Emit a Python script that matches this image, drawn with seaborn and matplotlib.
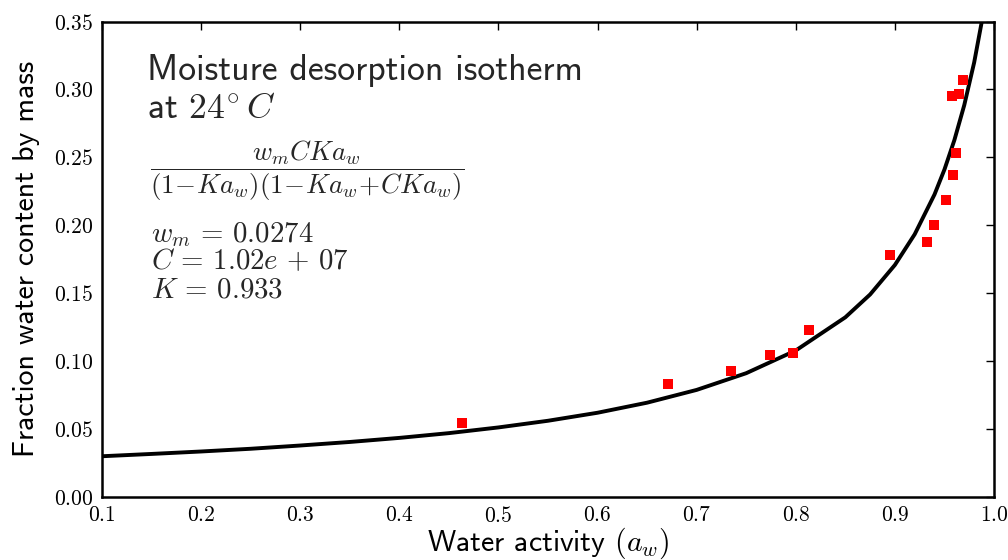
import matplotlib
matplotlib.use("Agg")
import matplotlib.pyplot as plt
import seaborn as sns
import pandas as pd

# ---- data ----
aw_obs = [0.463, 0.671, 0.735, 0.774, 0.797, 0.813, 0.895, 0.932, 0.939,
          0.952, 0.959, 0.962, 0.958, 0.965, 0.969]
w_obs = [0.055, 0.083, 0.093, 0.105, 0.106, 0.123, 0.178, 0.188, 0.200,
         0.219, 0.237, 0.253, 0.295, 0.297, 0.307]

# fitted GAB curve
aw_fit = [0.10, 0.15, 0.20, 0.25, 0.30, 0.35, 0.40, 0.45, 0.50, 0.55, 0.60,
          0.65, 0.70, 0.75, 0.80, 0.85, 0.875, 0.90, 0.92, 0.94, 0.95, 0.96,
          0.97, 0.98, 0.99]
w_fit = [0.0302, 0.0319, 0.0337, 0.0357, 0.0381, 0.0407, 0.0437, 0.0472,
         0.0514, 0.0563, 0.0622, 0.0696, 0.0790, 0.0913, 0.1080, 0.1324,
         0.1492, 0.1709, 0.1935, 0.2228, 0.2411, 0.2627, 0.2885, 0.3199,
         0.3590]

xticks = [0.1, 0.2, 0.3, 0.4, 0.5, 0.6, 0.7, 0.8, 0.9, 1.0]
xtick_labels = ["0.1", "0.2", "0.3", "0.4", "0.5", "0.6", "0.7", "0.8", "0.9", "1.0"]
yticks = [0.00, 0.05, 0.10, 0.15, 0.20, 0.25, 0.30, 0.35]
ytick_labels = ["0.00", "0.05", "0.10", "0.15", "0.20", "0.25", "0.30", "0.35"]

title_lines = ["Moisture desorption isotherm", r"at $24^{\circ}\, C$"]
formula = r"$\dfrac{w_m C K a_w}{(1\!-\!K a_w)(1\!-\!K a_w\!+\!C K a_w)}$"
param_lines = [r"$w_m\,=\,0.0274$", r"$C\,=\,1.02e\,+\,07$", r"$K\,=\,0.933$"]
xlabel = r"Water activity $(a_w)$"
ylabel = "Fraction water content by mass"

# ---- style ----
sns.set_style("white")
plt.rcParams["mathtext.fontset"] = "cm"
plt.rcParams["font.family"] = ["cmss10", "DejaVu Sans"]
plt.rcParams["axes.unicode_minus"] = False

fig = plt.figure(figsize=(10.08, 5.6), dpi=100)
ax = fig.add_axes([102 / 1008, 1 - 497.3 / 560, 892 / 1008, (497.3 - 21.5) / 560])

fit_df = pd.DataFrame({"aw": aw_fit, "w": w_fit})
obs_df = pd.DataFrame({"aw": aw_obs, "w": w_obs})

sns.lineplot(data=fit_df, x="aw", y="w", sort=False, estimator=None,
             color="black", linewidth=2.8, ax=ax, zorder=2)
sns.scatterplot(data=obs_df, x="aw", y="w", marker="s", s=52, color="#ff0000",
                edgecolor="none", linewidth=0, ax=ax, zorder=3)

ax.set_xlim(0.1, 1.0)
ax.set_ylim(0.0, 0.35)
ax.set_xticks(xticks)
ax.set_xticklabels([f"${t}$" for t in xtick_labels])
ax.set_yticks(yticks)
ax.set_yticklabels([f"${t}$" for t in ytick_labels])
ax.tick_params(direction="in", top=True, right=True, length=6, width=1.0,
               labelsize=15.5, colors="black", pad=6)
for sp in ax.spines.values():
    sp.set_visible(True)
    sp.set_linewidth(1.8)
    sp.set_color("black")

ax.set_xlabel(xlabel, fontsize=21.5, labelpad=0, color="black")
ax.set_ylabel(ylabel, fontsize=21.5, labelpad=10, color="black")

# annotation texts (figure pixel coordinates -> figure fraction)
def fx(px):
    return px / 1008

def fy(py):
    return 1 - py / 560

fig.text(fx(147), fy(80), title_lines[0], fontsize=25.7, va="baseline", ha="left")
fig.text(fx(147), fy(118), title_lines[1], fontsize=25.7, va="baseline", ha="left")
fig.text(fx(150), fy(157), formula, fontsize=19.4, va="center_baseline", ha="left")
for i, line in enumerate(param_lines):
    fig.text(fx(151), fy(242 + 27.5 * i), line, fontsize=20.8, va="baseline", ha="left")

fig.savefig("out.png", dpi=100)
